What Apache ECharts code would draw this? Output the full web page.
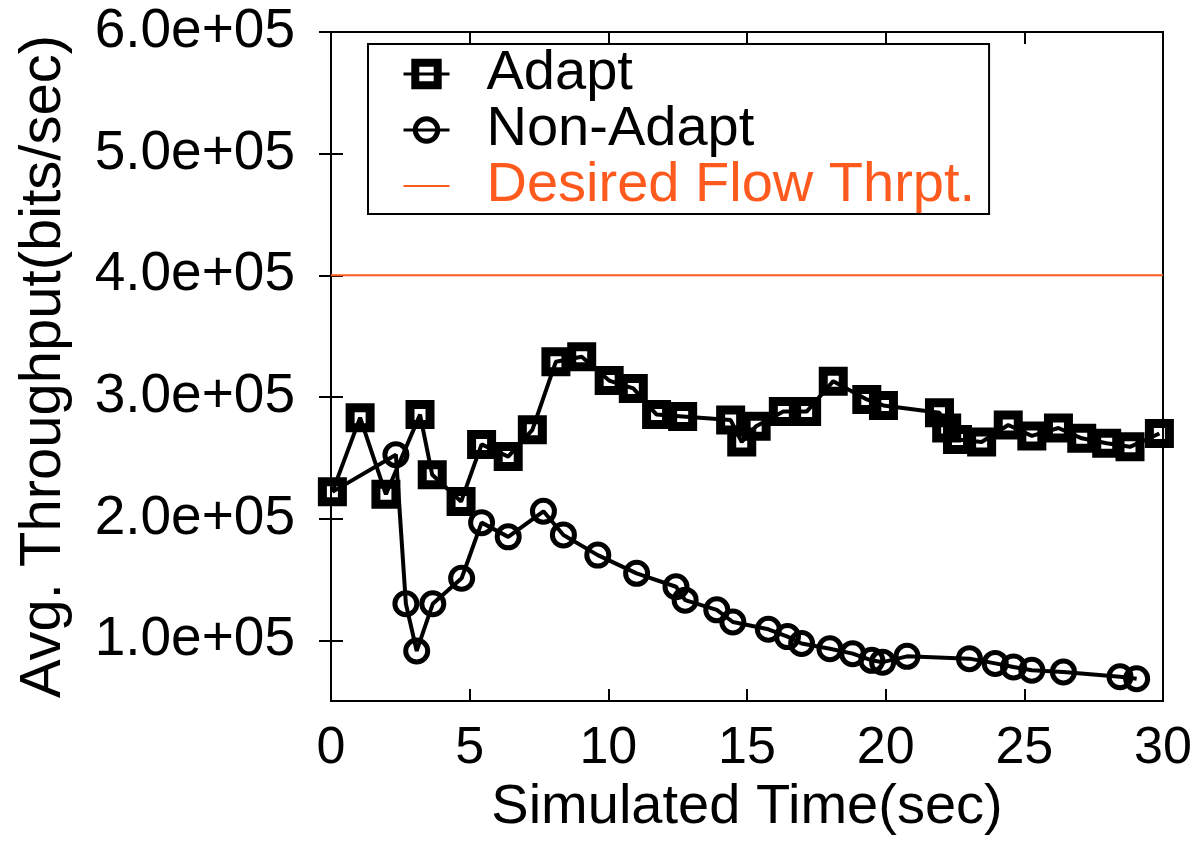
<!DOCTYPE html>
<html>
<head>
<meta charset="utf-8">
<script src="https://cdn.jsdelivr.net/npm/echarts@6/dist/echarts.min.js"></script>
<style>html,body{margin:0;padding:0;background:#fff;}#chart{width:1196px;height:841px;}</style>
</head>
<body>
<div id="chart"></div>
<script>
const adaptX = [0.05,1.05,1.98,3.21,3.65,4.69,5.43,6.39,7.26,8.11,9.04,10.03,10.9,11.74,12.68,14.41,14.81,15.33,16.31,17.15,18.11,19.32,19.92,21.94,22.2,22.59,23.46,24.42,25.27,26.23,27.07,27.97,28.81,29.87];
const adaptY = [222000,283000,220000,285500,236000,214000,261000,251000,273000,329000,333000,313500,307000,285500,284000,281000,263000,276000,288000,288000,313000,298000,293000,287000,274500,265000,263000,277000,268000,274500,266000,262000,259000,270000];
const nonAdaptX = [0.05,2.34,2.70,3.09,3.67,4.71,5.43,6.39,7.66,8.38,9.62,11.02,12.44,12.77,13.91,14.49,15.77,16.46,16.97,17.99,18.81,19.50,19.89,20.77,23.02,23.95,24.61,25.27,26.41,28.45,29.05];
const nonAdaptY = [222000,252500,130000,91200,130000,151000,196700,185000,206000,186600,170000,155000,144000,133000,125000,115000,109000,103000,97300,93000,89000,83500,82000,86800,84900,81000,78000,75300,74000,70000,68400];
const desiredX = [0,30];
const desiredY = [400000,400000];
const xTicks = [0,5,10,15,20,25,30];
const yTicks = [100000,200000,300000,400000,500000,600000];

const pairs = (xs, ys) => xs.map((x, i) => [x, ys[i]]);
const fmtExp = v => {
  const s = Number(v).toExponential(1);
  const [m, e] = s.split('e');
  const sign = e[0] === '-' ? '-' : '+';
  const d = e.replace(/[+-]/, '').padStart(2, '0');
  return m + 'e' + sign + d;
};
const FONT = 'Liberation Sans';
const ORANGE = '#ff5a1e';

const chart = echarts.init(document.getElementById('chart'));
chart.setOption({
  animation: false,
  backgroundColor: '#fff',
  textStyle: { fontFamily: FONT },
  grid: { left: 331, right: 33, top: 32, bottom: 139, show: true, borderColor: '#000', borderWidth: 2 },
  legend: {
    orient: 'vertical',
    left: 368, top: 44,
    padding: [2, 14, 0, 34],
    itemGap: 0,
    itemWidth: 46, itemHeight: 28,
    backgroundColor: '#fff',
    borderColor: '#000', borderWidth: 2,
    textStyle: { fontFamily: FONT, fontSize: 56, color: '#000', lineHeight: 55, padding: [0, 0, 0, 32] },
    data: [
      { name: 'Adapt', itemStyle: { color: 'rgba(255,255,255,0)', borderColor: '#000', borderWidth: 8 }, lineStyle: { color: '#000', width: 3 } },
      { name: 'Non-Adapt', itemStyle: { color: 'rgba(255,255,255,0)', borderColor: '#000', borderWidth: 5 }, lineStyle: { color: '#000', width: 3 } },
      { name: 'Desired Flow Thrpt.', icon: 'path://M0,0 L0,0 M0,13 L46,13 L46,15 L0,15 Z M46,28 L46,28',
        itemStyle: { color: ORANGE, borderWidth: 0 }, textStyle: { color: ORANGE } }
    ]
  },
  xAxis: [{
    type: 'value', min: 0, max: 30, interval: 5,
    name: 'Simulated Time(sec)', nameLocation: 'middle', nameGap: 70,
    nameTextStyle: { fontFamily: FONT, fontSize: 56, color: '#000' },
    axisLine: { show: true, lineStyle: { color: '#000', width: 2 } },
    axisTick: { show: true, inside: true, length: 12, lineStyle: { color: '#000', width: 2 } },
    axisLabel: { fontFamily: FONT, fontSize: 52, color: '#000', margin: 22, customValues: xTicks },
    splitLine: { show: false }
  }, {
    type: 'value', min: 0, max: 30, interval: 5, position: 'top',
    axisLine: { show: true, lineStyle: { color: '#000', width: 2 } },
    axisTick: { show: true, inside: true, length: 12, lineStyle: { color: '#000', width: 2 } },
    axisLabel: { show: false }, splitLine: { show: false }
  }],
  yAxis: [{
    type: 'value', min: 50000, max: 600000,
    name: 'Avg. Throughput(bits/sec)', nameLocation: 'middle', nameGap: 258,
    nameTextStyle: { fontFamily: FONT, fontSize: 58, color: '#000' },
    axisLine: { show: true, lineStyle: { color: '#000', width: 2 } },
    axisTick: { show: true, inside: true, length: 12, lineStyle: { color: '#000', width: 2 }, customValues: yTicks },
    axisLabel: { fontFamily: FONT, fontSize: 55, color: '#000', margin: 36, customValues: yTicks, formatter: fmtExp },
    splitLine: { show: false }
  }, {
    type: 'value', min: 50000, max: 600000, position: 'right',
    axisLine: { show: true, lineStyle: { color: '#000', width: 2 } },
    axisTick: { show: true, inside: true, length: 12, lineStyle: { color: '#000', width: 2 }, customValues: yTicks },
    axisLabel: { show: false }, splitLine: { show: false }
  }],
  series: [{
    name: 'Adapt', type: 'line', data: pairs(adaptX, adaptY),
    symbol: 'rect', symbolSize: 20,
    lineStyle: { color: '#000', width: 4 },
    itemStyle: { color: 'rgba(255,255,255,0)', borderColor: '#000', borderWidth: 9 },
    z: 3
  }, {
    name: 'Non-Adapt', type: 'line', data: pairs(nonAdaptX, nonAdaptY),
    symbol: 'circle', symbolSize: 22,
    lineStyle: { color: '#000', width: 4 },
    itemStyle: { color: 'rgba(255,255,255,0)', borderColor: '#000', borderWidth: 5 },
    z: 3
  }, {
    name: 'Desired Flow Thrpt.', type: 'line', data: pairs(desiredX, desiredY),
    showSymbol: false, symbol: 'none',
    lineStyle: { color: ORANGE, width: 2 },
    itemStyle: { color: ORANGE },
    z: 2
  }]
});
</script>
</body>
</html>
